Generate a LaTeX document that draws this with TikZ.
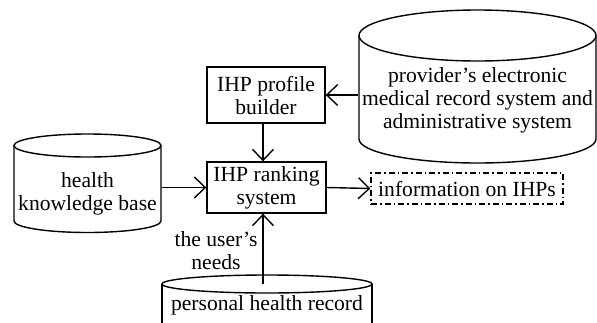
\documentclass[tikz,border=0pt]{standalone}
\usepackage{fontspec}
\setmainfont{Liberation Serif}
\usetikzlibrary{arrows.meta}
\begin{document}
\begin{tikzpicture}[x=1pt,y=-1pt,
  line width=1.2pt,
  txt/.style={font=\fontsize{21.6}{23}\selectfont, align=center, inner sep=0pt},
  procbox/.style={txt, draw, line width=1.4pt},
  infobox/.style={txt, draw, line width=1.3pt, dash pattern=on 6pt off 3pt on 1.5pt off 3pt},
  flow/.style={-{Straight Barb[length=11pt,width=21pt,line width=1.4pt]}, line width=1.4pt},
  cyl/.style={line width=1.4pt}]
\useasboundingbox (0,0) rectangle (597,322);

% boxes
\node[procbox, minimum width=118pt, minimum height=56pt] (builder) at (266,95) {IHP profile\\builder};
\node[procbox, minimum width=119pt, minimum height=51pt] (ranking) at (266.5,187.5) {IHP ranking\\system};
\node[infobox, minimum width=192pt, minimum height=31pt] (info) at (467,188.5) {information on IHPs};

% health knowledge base cylinder
\draw[cyl] (14,145.5) -- (14,221) arc[start angle=180,end angle=360,x radius=73.5pt,y radius=11.5pt] -- (161,145.5);
\draw[cyl] (87.5,145.5) ellipse[x radius=73.5pt,y radius=11.5pt];
\node[txt, minimum width=147pt] (hkb) at (87.5,193.5) {health\\knowledge base};

% provider cylinder
\draw[cyl] (359,35.5) -- (359,139) arc[start angle=180,end angle=360,x radius=118.5pt,y radius=24pt] -- (596,35.5);
\draw[cyl] (477.5,35.5) ellipse[x radius=118.5pt,y radius=25.5pt];
\node[txt, minimum width=237pt] (prov) at (477.5,100) {provider’s electronic\\medical record system and\\administrative system};

% personal health record cylinder
\draw[cyl] (162,284) -- (162,335);
\draw[cyl] (372,284) -- (372,335);
\draw[cyl] (267,284) ellipse[x radius=105pt,y radius=9pt];
\node[txt] (phr) at (267,305) {personal health record};
\coordinate (phrtop) at (263,284);

% label
\node[txt] (needs) at (216,251) {the user’s\\needs};

% connectors
\draw[flow] (prov.west |- builder.east) -- (builder.east);
\draw[flow] (builder.south -| phrtop) -- (ranking.north -| phrtop);
\draw[flow] (hkb.east |- ranking.west) -- (ranking.west);
\draw[flow] (ranking.east) -- (info.west);
\draw[flow] (phrtop) -- (phrtop |- ranking.south);
\end{tikzpicture}
\end{document}
